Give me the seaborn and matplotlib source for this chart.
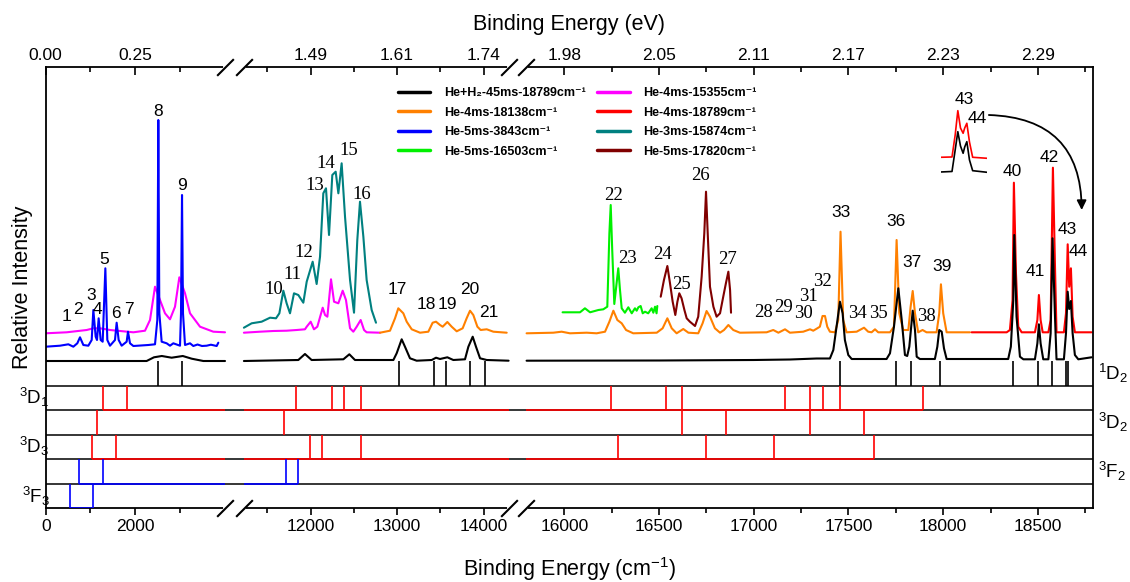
import numpy as np
import matplotlib
matplotlib.use("Agg")
import matplotlib.pyplot as plt
import matplotlib.transforms as mtransforms
from matplotlib.lines import Line2D
from matplotlib.path import Path
import seaborn as sns

sns.set_theme(style="ticks")
plt.rcParams["font.family"] = ["Liberation Sans", "DejaVu Sans"]
plt.rcParams["mathtext.fontset"] = "custom"
plt.rcParams["mathtext.rm"] = "Liberation Sans"
plt.rcParams["mathtext.it"] = "Liberation Sans:italic"
plt.rcParams["mathtext.bf"] = "Liberation Sans:bold"
plt.rcParams["axes.edgecolor"] = "black"
plt.rcParams["axes.linewidth"] = 1.3
plt.rcParams["xtick.color"] = "black"
plt.rcParams["text.color"] = "black"
plt.rcParams["axes.labelcolor"] = "black"

# ---------------- spectra (x in cm-1, y in relative intensity) ----------------
black_x1 = [0, 2260, 2425, 2600, 2820, 3070, 3270, 3530, 4016]
black_y1 = [0, 0, 3.7, 5, 3.3, 5, 2.3, 0, 0]
black_x2 = [11230, 11859, 11936, 12013, 12380, 12449, 12514, 12958, 12996, 13054, 13092, 13150,
            13227, 13401, 13451, 13497, 13582, 13651, 13786, 13825, 13875, 13913, 13960, 14037, 14290]
black_y2 = [0, 1, 7, 1, 1.7, 6.7, 1, 1, 7.7, 21.7, 14.3, 2.7,
            0.3, 1, 3.3, 2, 3.7, 1, 1.7, 14.3, 24.3, 14.3, 2.7, 1, 0.3]
black_x3 = [15801, 16500, 17000, 17191, 17332, 17402, 17420, 17437, 17455, 17469, 17481, 17499,
            17517, 17701, 17719, 17740, 17763, 17781, 17798, 17810, 17821, 17839, 17851, 17860,
            17877, 17956, 17969, 17979, 17992, 18004, 18018, 18343, 18357, 18370, 18375, 18387,
            18405, 18423, 18484, 18497, 18505, 18514, 18528, 18555, 18567, 18577, 18590, 18598,
            18637, 18648, 18657, 18665, 18674, 18683, 18695, 18713, 18783]
black_y3 = [0.3, 0.5, 1, 1.5, 2.5, 2.5, 11, 34.3, 59.3, 47.7, 21, 6,
            2, 2, 7.7, 34.3, 72.7, 41, 6, 5, 14.3, 50.3, 31, 4.3,
            2, 2, 14.3, 31, 29.3, 12.7, 2, 2, 14.3, 61, 126, 44.3,
            4.3, 1.7, 1.7, 17.7, 36.7, 17.7, 1.7, 1.7, 27.7, 122.7, 44.3, 1.7,
            1.7, 27.7, 69.3, 52, 60, 27.7, 6, 1.7, 3.7]

blue_x = [0, 320, 507, 619, 708, 768, 843, 955, 1030, 1067, 1119, 1149, 1186, 1231, 1276, 1336,
          1380, 1440, 1552, 1589, 1634, 1701, 1813, 1843, 1888, 1963, 2298, 2448, 2500, 2522,
          2545, 2597, 2709, 2784, 2858, 3008, 3030, 3053, 3075, 3120, 3232, 3306, 3400, 3500,
          3605, 3700, 3829, 3866]
blue_y = [14.3, 15.3, 16.7, 14.3, 17.7, 23.7, 16, 15.3, 21, 51, 24.3, 21, 42.7, 21, 19.3, 92.7,
          21, 15.3, 21, 38.3, 21, 15.3, 19.3, 29.3, 17.7, 15, 16, 16.7, 41, 241,
          47.7, 19.3, 17.7, 15.3, 17.7, 15.3, 47.7, 166, 47.7, 16, 17.7, 15, 16.5, 15,
          15.3, 16.3, 15, 18.3]

magenta_x1 = [0, 470, 918, 1067, 1216, 1440, 1963, 2224, 2336, 2448, 2560, 2672, 2784, 2896,
              2993, 3120, 3232, 3456, 3754, 4016]
magenta_y1 = [27.7, 28.7, 31, 32.7, 32.7, 31, 28.7, 30.3, 41, 74.3, 61, 47.7, 41.7, 54.3,
              83.7, 67.7, 47.7, 34.3, 29.3, 28.7]
magenta_x2 = [11230, 11416, 11570, 11724, 11840, 11936, 11956, 12002, 12040, 12079, 12141, 12168,
              12195, 12237, 12272, 12322, 12372, 12410, 12457, 12495, 12534, 12580, 12619, 12649, 12804]
magenta_y2 = [28.3, 29.3, 30, 30.3, 31, 31.7, 34.3, 39.3, 31.7, 34.3, 53.3, 46,
              44.3, 81.7, 59.3, 57.7, 70.3, 61, 32.7, 29.3, 34.3, 41, 31, 28.7, 28.3]

teal_x = [11230, 11320, 11435, 11532, 11601, 11640, 11686, 11724, 11763, 11809, 11859, 11917,
          11956, 12025, 12071, 12110, 12148, 12179, 12214, 12252, 12291, 12322, 12360, 12399,
          12457, 12503, 12541, 12572, 12611, 12649, 12707, 12757]
teal_y = [33.3, 37.7, 39.3, 43.3, 42.7, 47.7, 70.3, 57.7, 47.7, 67.7, 66, 58.3,
          79.3, 99.3, 77, 104.3, 167.7, 172.7, 126, 186, 189.3, 167.7, 197.7, 144.3,
          81, 48.3, 121, 159.3, 124.3, 81, 51, 38.3]

orange_x2 = [12804, 12919, 12977, 13015, 13073, 13112, 13170, 13266, 13362, 13412, 13451, 13497,
             13528, 13582, 13632, 13690, 13759, 13805, 13844, 13882, 13929, 13967, 14037, 14114, 14268]
orange_y2 = [28.3, 30.3, 42.7, 52.7, 47.7, 39.3, 31.7, 28.3, 29.3, 38.3, 39.3, 36,
             34.3, 39, 34.3, 29.7, 32.7, 42.7, 50.3, 46, 34.3, 31, 31.7, 29.3, 28.3]
orange_x3 = [15801, 15942, 15986, 16030, 16118, 16171, 16215, 16238, 16259, 16280, 16303, 16326,
             16364, 16488, 16519, 16544, 16567, 16593, 16628, 16655, 16707, 16730, 16751, 16769,
             16795, 16822, 16843, 16866, 16892, 16927, 17068, 17103, 17130, 17165, 17191, 17261,
             17297, 17314, 17332, 17349, 17363, 17376, 17388, 17402, 17429, 17446, 17458, 17472,
             17490, 17543, 17582, 17604, 17622, 17640, 17657, 17719, 17740, 17754, 17768, 17789,
             17816, 17828, 17839, 17851, 17868, 17891, 17912, 17965, 17979, 17988, 18000, 18018, 18141]
orange_y3 = [27.7, 28.3, 29.3, 27.7, 28.3, 27.7, 29.3, 39.3, 50.3, 41, 37.7, 31,
             27.7, 28.3, 32.7, 42.7, 32.7, 27.7, 32, 28.3, 27.7, 37.7, 50, 44.3,
             32.7, 28.3, 31, 36, 31, 28.3, 28.7, 31, 28.3, 31.7, 28.3, 29.3,
             31.7, 30.3, 32.3, 34.3, 45, 45, 34.3, 29.3, 28.7, 41, 129.3, 41,
             28.7, 29.3, 33.3, 29.3, 28.7, 31.7, 28.7, 28.7, 34.3, 121, 47.7, 31,
             31, 54.3, 70, 47.7, 28.7, 31, 28.7, 28.7, 47.7, 76.7, 47.7, 28.7, 28.7]

green_x = [15991, 16083, 16109, 16136, 16180, 16206, 16227, 16238, 16245, 16253, 16264, 16276,
           16285, 16294, 16303, 16320, 16338, 16356, 16373, 16382, 16391, 16403, 16414, 16426,
           16443, 16461, 16470, 16479, 16487, 16491]
green_y = [48.7, 48.7, 52.7, 48.7, 51, 51.7, 54.3, 127.7, 156, 111, 57, 77.7,
           92.7, 71, 52.7, 48.3, 53.7, 47.7, 52.7, 50.3, 53.7, 55, 47.7, 49.3,
           47.7, 52.7, 48.3, 54.3, 47.7, 55]

darkred_x = [16509, 16526, 16544, 16558, 16572, 16586, 16597, 16607, 16619, 16634, 16646, 16663,
             16690, 16707, 16725, 16739, 16748, 16757, 16769, 16787, 16804, 16822, 16839, 16853,
             16866, 16875, 16880]
darkred_y = [64.3, 81, 95, 77.7, 59.3, 46, 59.3, 67.7, 62.7, 51, 42.7, 39.3,
             35, 44.3, 84.3, 127.7, 169.3, 127.7, 74.3, 54.3, 44.3, 47.7, 64.3, 77.7,
             89.3, 71, 48.3]

red_x = [18150, 18335, 18352, 18366, 18373, 18384, 18396, 18414, 18484, 18497, 18505, 18514,
         18525, 18555, 18567, 18579, 18590, 18598, 18637, 18648, 18657, 18665, 18674, 18683,
         18695, 18783]
red_y = [28.7, 28.7, 31, 61, 178.3, 87.7, 34.3, 28.7, 28.7, 41, 66, 41,
         28.7, 28.7, 41, 193.3, 94.3, 28.7, 28.7, 47.7, 116.7, 74.3, 92.7, 44.3,
         28.7, 28.7]

# magnified copy of peaks 43/44
inset_x = [18625, 18646, 18652, 18657, 18662, 18667, 18670, 18674, 18679, 18685, 18712]
inset_red = [17.7, 18, 40, 64.3, 47, 41.7, 47, 51.7, 33, 17.7, 16.7]
inset_black = [3, 3.5, 25, 43.3, 29, 21.7, 28, 33.3, 15, 4.3, 2.7]

legend_labels = ["He+H\u2082-45ms-18789cm\u207b\u00b9", "He-4ms-18138cm\u207b\u00b9",
                 "He-5ms-3843cm\u207b\u00b9", "He-5ms-16503cm\u207b\u00b9",
                 "He-4ms-15355cm\u207b\u00b9", "He-4ms-18789cm\u207b\u00b9",
                 "He-3ms-15874cm\u207b\u00b9", "He-5ms-17820cm\u207b\u00b9"]

# ---------------- stick spectra ----------------
row_names = [r"$^{1}$D$_{2}$", r"$^{3}$D$_{1}$", r"$^{3}$D$_{2}$",
             r"$^{3}$D$_{3}$", r"$^{3}$F$_{2}$", r"$^{3}$F$_{3}$"]
sticks = [
    [2510, 3045, 13027, 13428, 13567, 13845, 14018, 17454, 17751, 17832, 17984,
     18370, 18498, 18572, 18647, 18659],
    [1290, 1820, 11837, 12244, 12384, 12578, 16244, 16539, 16620, 17164, 17295,
     17363, 17456, 17893],
    [1150, 11694, 16620, 16855, 17295, 17583],
    [1037, 1567, 11992, 12128, 12581, 16284, 16749, 17107, 17636],
    [746, 1276, 11717, 11852],
    [552, 1066],
]

# ---------------- peak labels ----------------
peak_names = [str(i) for i in range(1, 45)]
peak_x = [470, 717, 1008, 1165, 1312, 1568, 1866, 2508, 3046, 11578, 11794, 11925, 12044,
          12179, 12437, 12592, 13003, 13343, 13579, 13844, 14065, 16259, 16332, 16519, 16620,
          16721, 16862, 17050, 17156, 17261, 17291, 17362, 17459, 17548, 17657, 17751, 17833,
          17909, 17992, 18366, 18484, 18560, 18657, 18713]
peak_y = [44.3, 51, 65, 51.7, 101, 47.7, 51.7, 249.3, 175, 71.7, 86.7, 108.7, 175,
          197.7, 210, 166.7, 71.7, 56, 56, 71, 48.3, 165, 102.7, 106.7, 76,
          185, 101, 48.7, 53.7, 47.7, 64.3, 79.3, 148.3, 47.7, 47.7, 139.3, 98.3,
          44.3, 94.3, 189.3, 89.3, 203.7, 131, 109.3]
serif_peaks = set([10, 11, 12, 13, 14, 15, 16, 22, 23, 24, 25, 26, 27, 28, 29, 30, 31, 32,
                   34, 35, 38])

tick_cm = [0, 2000, 12000, 13000, 14000, 16000, 16500, 17000, 17500, 18000, 18500]
minor_cm = [1000, 3000, 11500, 12500, 13500, 16250, 16750, 17250, 17750, 18250, 18750]
tick_ev = ["0.00", "0.25", "1.49", "1.61", "1.74", "1.98", "2.05", "2.11", "2.17", "2.23", "2.29"]

# colours
C_BLACK, C_ORANGE, C_BLUE, C_GREEN = "#000000", "#FF8000", "#0000FF", "#00F000"
C_MAGENTA, C_RED, C_TEAL, C_DARKRED = "#FF00FF", "#FF0000", "#008080", "#800000"

# ---------------- broken axis as a piecewise linear scale ----------------
knots_cm = [-50000, 0, 4020, 11230, 14290, 15800, 18789, 100000]
knots_u = [-2186.8, 45.7, 225.2, 243.9, 508.6, 526.4, 1092.7, 16480.7]


def fwd(x):
    return np.interp(x, knots_cm, knots_u)


def inv(u):
    return np.interp(u, knots_u, knots_cm)


segments = [(0, 4020), (11230, 14290), (15800, 18789)]
ROW = 24.55

fig = plt.figure(figsize=(11.3, 5.82), dpi=100)
ax = fig.add_axes([0.04044, 0.12663, 0.92655, 0.75877])

traces = [
    (magenta_x1, magenta_y1, C_MAGENTA), (magenta_x2, magenta_y2, C_MAGENTA),
    (orange_x2, orange_y2, C_ORANGE), (orange_x3, orange_y3, C_ORANGE),
    (red_x, red_y, C_RED), (teal_x, teal_y, C_TEAL),
    (green_x, green_y, C_GREEN), (darkred_x, darkred_y, C_DARKRED),
    (blue_x, blue_y, C_BLUE),
    (black_x1, black_y1, C_BLACK), (black_x2, black_y2, C_BLACK), (black_x3, black_y3, C_BLACK),
]
for xs, ys, c in traces:
    sns.lineplot(x=xs, y=ys, color=c, linewidth=1.5, ax=ax, legend=False)

ax.set_xscale("function", functions=(fwd, inv))
ax.set_xlim(0, 18789)
ax.set_ylim(-6 * ROW, 294.3)

# stick rows
stick_colors = [C_BLACK, C_RED, C_RED, C_RED, C_BLUE, C_BLUE]
draw_base = [False, True, False, True, True, True]
for k in range(1, 6):
    ax.axhline(-k * ROW, color="black", lw=1.1, zorder=1)
for k, pos in enumerate(sticks):
    top, bot = -k * ROW, -(k + 1) * ROW
    ax.vlines(pos, bot, top, colors=stick_colors[k], lw=1.2, zorder=3)
    if draw_base[k]:
        for lo, hi in segments:
            a, b = max(lo, min(pos)), min(hi, max(pos))
            if a < b:
                ax.hlines(bot, a, b, colors=stick_colors[k], lw=1.2, zorder=3)

blend = mtransforms.blended_transform_factory(ax.transAxes, ax.transData)
for k, name in enumerate(row_names):
    yc = -(k + 0.5) * ROW
    if k % 2 == 0:
        ax.text(1.0053, yc, name, transform=blend, ha="left", va="center", fontsize=13.5)
    else:
        ax.text(0.004, yc, name, transform=blend, ha="right", va="center", fontsize=13.5)

# peak numbers
for name, px, py in zip(peak_names, peak_x, peak_y):
    if int(name) in serif_peaks:
        ax.text(px, py, name, ha="center", va="center", fontsize=13.5,
                family="Liberation Serif")
    else:
        ax.text(px, py, name, ha="center", va="center", fontsize=12.5)

# axes and ticks
ax.set_yticks([])
ax.set_xticks(tick_cm)
ax.set_xticklabels([str(t) for t in tick_cm])
ax.set_xticks(minor_cm, minor=True)
ax.tick_params(axis="x", which="major", direction="out", length=5, width=1.2,
               labelsize=12.5, pad=3)
ax.tick_params(axis="x", which="minor", direction="out", length=3.5, width=1.2)
ax.set_xlabel("Binding Energy (cm$^{-1}$)", fontsize=15.5)
ax.xaxis.set_label_coords(0.5, -0.105)
ax.set_ylabel("Relative Intensity", fontsize=15.5)
ax.yaxis.set_label_coords(-0.012, 0.5)

ax2 = ax.twiny()
ax2.set_xscale("function", functions=(fwd, inv))
ax2.set_xlim(0, 18789)
ax2.set_xticks(tick_cm)
ax2.set_xticklabels(tick_ev)
ax2.set_xticks(minor_cm, minor=True)
ax2.tick_params(axis="x", which="major", direction="in", length=5.5, width=1.2,
                labelsize=12.5, pad=3)
ax2.tick_params(axis="x", which="minor", direction="in", length=3.5, width=1.2)
for s in ax2.spines.values():
    s.set_visible(False)
ax2.set_xlabel("Binding Energy (eV)", fontsize=15.5)
ax2.xaxis.set_label_coords(0.5, 1.082)

# break marks
xt = ax.get_xaxis_transform()
slash = Path([(-1, -1), (1, 1)], [Path.MOVETO, Path.LINETO])
for yv in (0, 1):
    for lo, hi in [(4020, 11230), (14290, 15800)]:
        ax.plot([lo, hi], [yv, yv], color="white", lw=3, transform=xt, clip_on=False, zorder=5)
    ax.plot([4020, 11230, 14290, 15800], [yv] * 4, ls="none", marker=slash, ms=12, mew=1.5,
            mec="black", transform=xt, clip_on=False, zorder=6)

# legend
leg_colors = [C_BLACK, C_ORANGE, C_BLUE, C_GREEN, C_MAGENTA, C_RED, C_TEAL, C_DARKRED]
handles = [Line2D([], [], color=c, lw=2.5) for c in leg_colors]
ax.legend(handles, legend_labels, ncol=2, loc="upper left", bbox_to_anchor=(0.3522, 0.8505),
          bbox_transform=fig.transFigure, frameon=False,
          prop=dict(family=["Liberation Sans", "DejaVu Sans"], weight="bold", size=9),
          handlelength=2.6, handletextpad=1.1, columnspacing=0.9, labelspacing=0.6,
          borderpad=0, borderaxespad=0)

# inset with the magnified 43/44 doublet
axins = ax.inset_axes([0.855, 0.7548, 0.044, 0.1925])
axins.patch.set_visible(False)
for s in axins.spines.values():
    s.set_visible(False)
sns.lineplot(x=inset_x, y=inset_red, color=C_RED, linewidth=1.2, ax=axins, legend=False)
sns.lineplot(x=inset_x, y=inset_black, color=C_BLACK, linewidth=1.2, ax=axins, legend=False)
axins.set_xticks([])
axins.set_yticks([])
axins.set_xlim(18625, 18712)
axins.set_ylim(0, 85)
axins.text(18669, 75, "43", ha="center", va="center", fontsize=12.5)
axins.text(18694, 56, "44", ha="center", va="center", fontsize=12.5)

ax.annotate("", xy=(18731, 151), xytext=(18241, 246),
            arrowprops=dict(arrowstyle="-|>", color="black", lw=1.3, mutation_scale=14,
                            shrinkA=0, shrinkB=0, connectionstyle="arc3,rad=-0.48"))

fig.savefig("out.png", dpi=100)
